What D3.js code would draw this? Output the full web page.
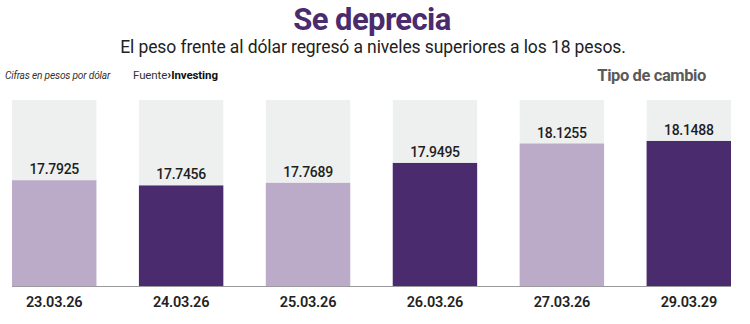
<!DOCTYPE html>
<html><head><meta charset="utf-8">
<script src="https://cdn.jsdelivr.net/npm/d3@7"></script>
<style>
html,body{margin:0;padding:0;background:#fff;}
svg{display:block;font-family:Roboto,"Open Sans",sans-serif;}
</style></head>
<body>
<svg id="c" width="750" height="324"></svg>
<script>
const categories = ["23.03.26","24.03.26","25.03.26","26.03.26","27.03.26","29.03.29"];
const values = [17.7925,17.7456,17.7689,17.9495,18.1255,18.1488];
const valueLabels = ["17.7925","17.7456","17.7689","17.9495","18.1255","18.1488"];
const yDomain = [16.83, 18.52];

(function(){
const svg = d3.select("#c");
const plotLeft = 12, plotRight = 731, plotTop = 100, base = 286.5;

const xb = d3.scaleBand().domain(categories).range([plotLeft, plotRight]).paddingInner(0.335).paddingOuter(0);
const y = d3.scaleLinear().domain(yDomain).range([base, plotTop]);

const light = "#bcaac9", dark = "#4a2b6d", bg = "#eef0f0";

svg.append("g").selectAll("rect").data(categories).join("rect")
  .attr("x", d => xb(d)).attr("width", xb.bandwidth())
  .attr("y", y(yDomain[1])).attr("height", base - y(yDomain[1]))
  .attr("fill", bg);

svg.append("g").selectAll("rect").data(values).join("rect")
  .attr("x", (d,i) => xb(categories[i])).attr("width", xb.bandwidth())
  .attr("y", d => y(d)).attr("height", d => base - y(d))
  .attr("fill", (d,i) => i % 2 ? dark : light);

svg.append("line").attr("x1", plotLeft).attr("x2", plotRight).attr("y1", base).attr("y2", base)
  .attr("stroke", "#9a9a9e").attr("stroke-width", 1.2);

svg.append("g").selectAll("text").data(values).join("text")
  .attr("x", (d,i) => xb(categories[i]) + xb.bandwidth()/2)
  .attr("y", d => y(d) - 6)
  .attr("text-anchor", "middle")
  .attr("font-size", 14).attr("font-weight", 500).attr("fill", "#1e1e1e")
  .attr("letter-spacing", -0.3)
  .text((d,i) => valueLabels[i]);

const xAxis = d3.axisBottom(xb).tickSize(0).tickPadding(10);
const gx = svg.append("g").attr("transform", `translate(0,${base})`).call(xAxis);
gx.select(".domain").remove();
gx.selectAll("text").attr("font-size", 14.5).attr("font-weight", 600).attr("fill", "#222")
  .attr("font-family", "Roboto, sans-serif").attr("letter-spacing", -0.2);

svg.append("text").attr("x", 372).attr("y", 30).attr("text-anchor", "middle")
  .attr("font-size", 31).attr("font-weight", 700).attr("fill", "#4a2b6d")
  .attr("letter-spacing", -0.6).text("Se deprecia");
svg.append("text").attr("x", 373).attr("y", 53).attr("text-anchor", "middle")
  .attr("font-size", 17.5).attr("font-weight", 400).attr("fill", "#222")
  .attr("letter-spacing", -0.1)
  .text("El peso frente al dólar regresó a niveles superiores a los 18 pesos.");

svg.append("text").attr("x", 5).attr("y", 79)
  .attr("font-size", 10.2).attr("font-style", "italic").attr("fill", "#333")
  .attr("letter-spacing", -0.2).text("Cifras en pesos por dólar");
const src = svg.append("text").attr("x", 133).attr("y", 79).attr("font-size", 11.5).attr("fill", "#333").attr("letter-spacing", -0.1);
src.append("tspan").text("Fuente");
src.append("tspan").attr("fill", "#4a2b6d").attr("font-weight", 900).attr("font-size", 13).text("›");
src.append("tspan").attr("font-weight", 700).attr("fill", "#111").text("Investing");

svg.append("text").attr("x", 706).attr("y", 81).attr("text-anchor", "end")
  .attr("font-size", 16.5).attr("font-weight", 700).attr("fill", "#5a5a5a")
  .attr("letter-spacing", -0.4).text("Tipo de cambio");
})();
</script>
</body></html>
